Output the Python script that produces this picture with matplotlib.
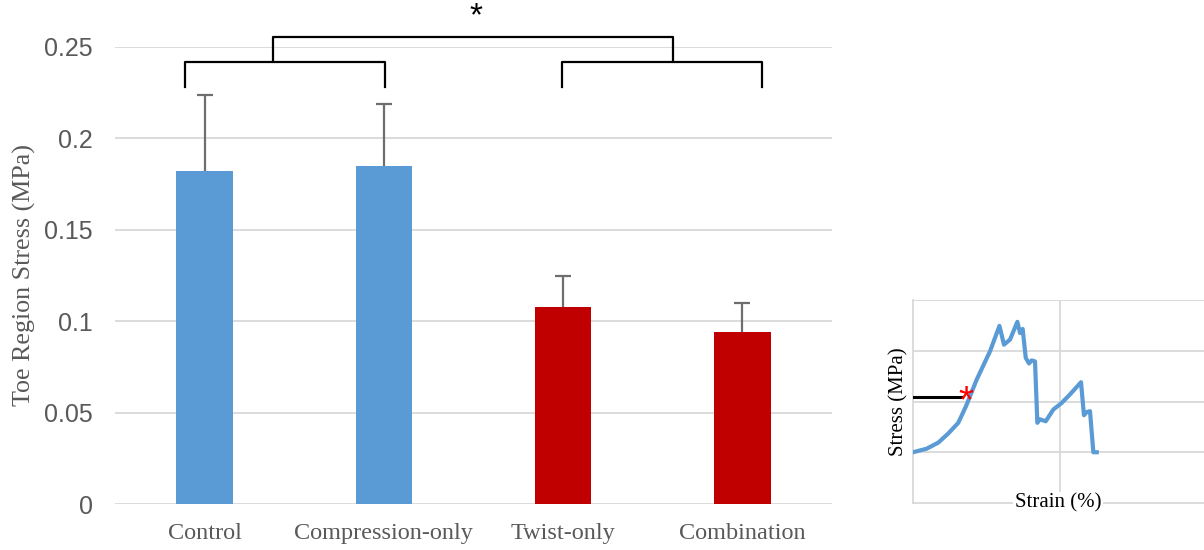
import numpy as np
import matplotlib.pyplot as plt

groups = ['Control', 'Compression-only', 'Twist-only', 'Combination']
stress = [0.182, 0.185, 0.108, 0.094]
stress_sd = [0.042, 0.034, 0.017, 0.016]
bar_colors = ['#5B9BD5', '#5B9BD5', '#C00000', '#C00000']

# inset: typical stress-strain curve (arbitrary units)
curve_strain = [0.0, 0.093, 0.172, 0.24, 0.308, 0.361, 0.433, 0.524, 0.588, 0.619,
                0.66, 0.71, 0.728, 0.746, 0.767, 0.789, 0.807, 0.83, 0.846, 0.864,
                0.882, 0.903, 0.954, 1.011, 1.068, 1.143, 1.163, 1.181, 1.204,
                1.227, 1.25]
curve_stress = [0.0, 0.07, 0.19, 0.37, 0.58, 0.91, 1.43, 1.99, 2.49, 2.12,
                2.22, 2.57, 2.35, 2.43, 1.86, 1.75, 1.81, 1.79, 0.58, 0.65,
                0.63, 0.61, 0.84, 0.97, 1.14, 1.38, 0.73, 0.79, 0.81,
                0.0, 0.0]
toe_point = (0.361, 1.09)

W, H = 1204, 550
fig = plt.figure(figsize=(W / 100, H / 100), dpi=100)

def px_axes(left, top, right, bottom):
    return fig.add_axes([left / W, 1 - bottom / H, (right - left) / W, (bottom - top) / H])

grid_c = '#D9D9D9'
text_c = '#595959'
serif = ['Liberation Serif', 'DejaVu Serif']
sans = ['Liberation Sans', 'DejaVu Sans']

ax = px_axes(115, 47, 832, 504)
x = np.arange(len(groups))
tops = np.array(stress) + np.array(stress_sd)
ax.bar(x, stress, width=0.315, color=bar_colors, zorder=3)
ax.vlines(x, stress, tops, color='#6E6E6E', lw=1.6, zorder=4)
ax.hlines(tops, x - 0.045, x + 0.045, color='#6E6E6E', lw=1.6, zorder=4)
ax.set_xlim(-0.5, 3.5)
ax.set_ylim(0, 0.25)
ax.set_yticks([0, 0.05, 0.1, 0.15, 0.2, 0.25])
ax.set_yticklabels(['0', '0.05', '0.1', '0.15', '0.2', '0.25'], family=sans, fontsize=18, color=text_c)
ax.set_xticks(x)
ax.set_xticklabels(groups, family=serif, fontsize=17.5, color=text_c)
ax.tick_params(length=0)
ax.tick_params(axis='x', pad=14)
ax.tick_params(axis='y', pad=16)
ax.yaxis.grid(True, color=grid_c, lw=1.3, zorder=0)
for s in ax.spines.values():
    s.set_visible(False)
ax.set_ylabel('Toe Region Stress (MPa)', family=serif, fontsize=18.7, color=text_c, labelpad=6)

# significance brackets
def bracket(x0, x1, y0, y1):
    ax.plot([x0, x0, x1, x1], [y0, y1, y1, y0], color='black', lw=1.6, clip_on=False, zorder=5)

bracket(-0.109, 1.006, 0.2281, 0.2418)
bracket(1.994, 3.109, 0.2281, 0.2418)
bracket(0.381, 2.613, 0.2430, 0.2555)
ax.text(1.514, 0.2665, '*', ha='center', va='center', fontsize=24, family=sans, clip_on=False)

# inset
ins = px_axes(913, 300, 1207, 503)
ins.plot(curve_strain, curve_stress, color='#5B9BD5', lw=3, zorder=3)
ins.plot([0, toe_point[0] - 0.03], [toe_point[1], toe_point[1]], color='black', lw=2.2, zorder=4)
ins.text(toe_point[0], toe_point[1] - 0.1, '*', color='red', fontsize=28, ha='center', va='center',
         family=sans, zorder=5)
ins.set_xlim(0, 2)
ins.set_ylim(-1, 3)
ins.set_xticks([1, 2])
ins.set_yticks([0, 1, 2, 3])
ins.grid(True, color=grid_c, lw=1.3, zorder=0)
ins.tick_params(length=0, labelbottom=False, labelleft=False)
for k in ['top', 'right']:
    ins.spines[k].set_visible(False)
for k in ['left', 'bottom']:
    ins.spines[k].set_color(grid_c)
    ins.spines[k].set_linewidth(1.3)
ins.set_ylabel('Stress (MPa)', family=serif, fontsize=15, labelpad=3)
fig.text(1058 / W, 1 - 503 / H, 'Strain (%)', family=serif, fontsize=15, ha='center', va='center',
         bbox=dict(facecolor='white', edgecolor='none', pad=1))

fig.savefig('out.png', dpi=100)
